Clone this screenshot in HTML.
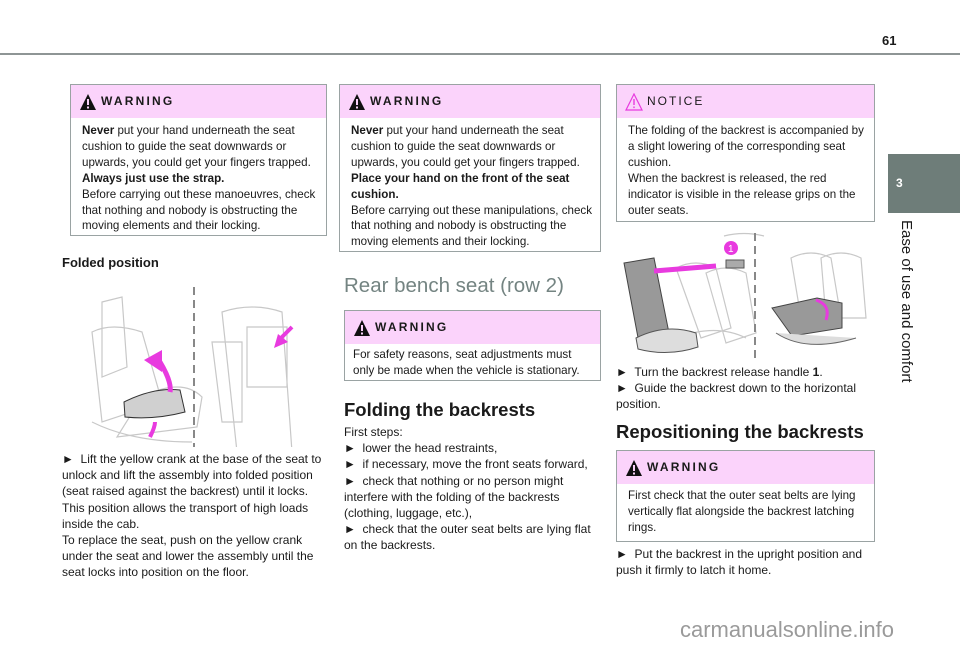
<!DOCTYPE html>
<html><head><meta charset="utf-8"><style>
*{margin:0;padding:0;box-sizing:border-box}
body{width:960px;height:649px;background:#fff;position:relative;overflow:hidden;font-family:"Liberation Sans",Arial,sans-serif;color:#1a1a1a}
.a{position:absolute}
.t{font-size:12px;line-height:16.2px}
.box{position:absolute;border:1px solid #9aa3a3;background:#fff}
.box .t{font-size:11.6px;line-height:15.9px}
.hd{background:#fbd3fb;height:33px;position:relative}
.hd span{position:absolute;left:30px;top:9px;font-weight:bold;font-size:12px;letter-spacing:2.2px}
.tri{position:absolute;left:8px;top:8px}
.bd{padding:5px 6px 0 11px}
b{font-weight:bold}
</style></head><body>
<div class="a" style="left:0;top:53px;width:960px;height:2px;background:#8e9595"></div>
<div class="a" style="left:882px;top:33px;font-size:13px;font-weight:bold">61</div>
<div class="a" style="left:888px;top:154px;width:72px;height:59px;background:#6e7d79"></div>
<div class="a" style="left:896px;top:176px;color:#fff;font-size:12px;font-weight:bold">3</div>
<div class="a" style="left:895px;top:220px;width:20px;height:200px"><div style="transform:rotate(90deg);transform-origin:0 0;position:absolute;left:20px;top:0;white-space:nowrap;font-size:15px">Ease of use and comfort</div></div>

<!-- col1 -->
<div class="box" style="left:70px;top:84px;width:257px;height:152px">
<div class="hd"><svg class="tri" width="18" height="18"><polygon points="9,1 17,17 1,17" fill="#111"/><rect x="8" y="6" width="2" height="6" fill="#fbd3fb"/><rect x="8" y="13.5" width="2" height="2" fill="#fbd3fb"/></svg><span>WARNING</span></div>
<div class="bd t"><b>Never</b> put your hand underneath the seat cushion to guide the seat downwards or upwards, you could get your fingers trapped.<br><b>Always just use the strap.</b><br>Before carrying out these manoeuvres, check that nothing and nobody is obstructing the moving elements and their locking.</div></div>
<div class="a" style="left:62px;top:255px;font-size:13px;font-weight:bold">Folded position</div>
<svg class="a" style="left:62px;top:282px" width="264" height="165">
<g fill="none" stroke="#c8c8c8" stroke-width="1.2">
<path d="M40 20 l20 -5 l5 70 l-25 10 z M30 50 q20 -10 50 0 l20 70 l-60 20 z M80 115 q40 -20 60 0 l-5 30 l-80 10z M30 140 q40 20 100 20"/>
<path d="M160 30 q30 -10 60 0 l10 140 l-55 0z M150 60 l30 0 l0 80 l-20 0z M185 45 l40 0 l0 60 l-40 0z"/>
</g>
<path d="M62 120 q30 -15 56 -12 l5 22 q-30 8 -60 5z" fill="#d0d0d0" stroke="#333"/>
<path d="M98 80 q12 20 10 30" stroke="#e83adf" stroke-width="5" fill="none"/><polygon points="82,78 100,68 100,90" fill="#e83adf"/>
<path d="M88 155 q5 -10 5 -15" stroke="#e83adf" stroke-width="4" fill="none"/>
<path d="M230 45 l-12 12" stroke="#e83adf" stroke-width="4"/><polygon points="212,66 216,52 226,60" fill="#e83adf"/>
<line x1="132" y1="5" x2="132" y2="165" stroke="#888" stroke-width="2" stroke-dasharray="8,5"/>
</svg>
<div class="a t" style="left:62px;top:451px;width:264px">►&nbsp; Lift the yellow crank at the base of the seat to unlock and lift the assembly into folded position (seat raised against the backrest) until it locks.<br>This position allows the transport of high loads inside the cab.<br>To replace the seat, push on the yellow crank under the seat and lower the assembly until the seat locks into position on the floor.</div>

<!-- col2 -->
<div class="box" style="left:339px;top:84px;width:262px;height:168px">
<div class="hd"><svg class="tri" width="18" height="18"><polygon points="9,1 17,17 1,17" fill="#111"/><rect x="8" y="6" width="2" height="6" fill="#fbd3fb"/><rect x="8" y="13.5" width="2" height="2" fill="#fbd3fb"/></svg><span>WARNING</span></div>
<div class="bd t"><b>Never</b> put your hand underneath the seat cushion to guide the seat downwards or upwards, you could get your fingers trapped.<br><b>Place your hand on the front of the seat cushion.</b><br>Before carrying out these manipulations, check that nothing and nobody is obstructing the moving elements and their locking.</div></div>
<div class="a" style="left:344px;top:274px;font-size:20.5px;color:#748482">Rear bench seat (row 2)</div>
<div class="box" style="left:344px;top:310px;width:257px;height:71px">
<div class="hd"><svg class="tri" width="18" height="18"><polygon points="9,1 17,17 1,17" fill="#111"/><rect x="8" y="6" width="2" height="6" fill="#fbd3fb"/><rect x="8" y="13.5" width="2" height="2" fill="#fbd3fb"/></svg><span>WARNING</span></div>
<div class="bd t" style="padding-top:3px;padding-left:8px">For safety reasons, seat adjustments must only be made when the vehicle is stationary.</div></div>
<div class="a" style="left:344px;top:399px;font-size:18.5px;font-weight:bold">Folding the backrests</div>
<div class="a t" style="left:344px;top:424px;width:258px">First steps:<br>►&nbsp; lower the head restraints,<br>►&nbsp; if necessary, move the front seats forward,<br>►&nbsp; check that nothing or no person might interfere with the folding of the backrests (clothing, luggage, etc.),<br>►&nbsp; check that the outer seat belts are lying flat on the backrests.</div>

<!-- col3 -->
<div class="box" style="left:616px;top:84px;width:259px;height:138px">
<div class="hd"><svg class="tri" width="18" height="18"><polygon points="9,1 17,17 1,17" fill="none" stroke="#e83adf" stroke-width="1.2"/><rect x="8.3" y="6" width="1.4" height="6" fill="#e83adf"/><rect x="8.3" y="13.5" width="1.4" height="1.6" fill="#e83adf"/></svg><span style="font-weight:normal;letter-spacing:2px">NOTICE</span></div>
<div class="bd t">The folding of the backrest is accompanied by a slight lowering of the corresponding seat cushion.<br>When the backrest is released, the red indicator is visible in the release grips on the outer seats.</div></div>
<svg class="a" style="left:616px;top:228px" width="260" height="132">
<g fill="none" stroke="#c8c8c8" stroke-width="1.2">
<path d="M60 40 q20 -10 40 0 l15 60 l-30 10 z M90 45 q20 -10 40 0 l10 60 l-30 10z M60 110 q40 -15 70 0"/>
<path d="M175 30 q20 -10 40 0 l10 60 l-40 0z M205 30 q20 -10 40 0 l5 60 l-40 0z"/>
<path d="M108 8 q20 -5 40 0"/>
</g>
<path d="M8 35 l30 -5 l15 75 l-30 10z" fill="#999" stroke="#444"/>
<path d="M20 110 q30 -15 60 -5 l2 14 q-30 10 -60 2z" fill="#ddd" stroke="#555"/>
<path d="M156 80 l45 -10 l25 5 l0 25 l-50 8 z" fill="#999" stroke="#444"/>
<path d="M160 105 q30 20 80 5" fill="#ddd" stroke="#666"/>
<line x1="38" y1="43" x2="100" y2="38" stroke="#e83adf" stroke-width="5"/>
<circle cx="115" cy="20" r="7" fill="#e83adf"/><text x="112" y="24" font-size="10" fill="#fff" font-family="Liberation Sans">1</text>
<path d="M110 32 l18 0 l0 8 l-18 0z" fill="#aaa" stroke="#555"/>
<path d="M200 72 q15 5 10 20" stroke="#e83adf" stroke-width="3" fill="none"/>
<line x1="139" y1="5" x2="139" y2="132" stroke="#888" stroke-width="2" stroke-dasharray="8,5"/>
</svg>
<div class="a t" style="left:616px;top:364px;width:262px">►&nbsp; Turn the backrest release handle <b>1</b>.<br>►&nbsp; Guide the backrest down to the horizontal position.</div>
<div class="a" style="left:616px;top:421px;font-size:18.5px;font-weight:bold">Repositioning the backrests</div>
<div class="box" style="left:616px;top:450px;width:259px;height:92px">
<div class="hd"><svg class="tri" width="18" height="18"><polygon points="9,1 17,17 1,17" fill="#111"/><rect x="8" y="6" width="2" height="6" fill="#fbd3fb"/><rect x="8" y="13.5" width="2" height="2" fill="#fbd3fb"/></svg><span>WARNING</span></div>
<div class="bd t" style="padding-top:4px">First check that the outer seat belts are lying vertically flat alongside the backrest latching rings.</div></div>
<div class="a t" style="left:616px;top:546px;width:262px">►&nbsp; Put the backrest in the upright position and push it firmly to latch it home.</div>

<div class="a" style="left:680px;top:617px;font-size:22px;color:#9a9a9a">carmanualsonline.info</div>
</body></html>
